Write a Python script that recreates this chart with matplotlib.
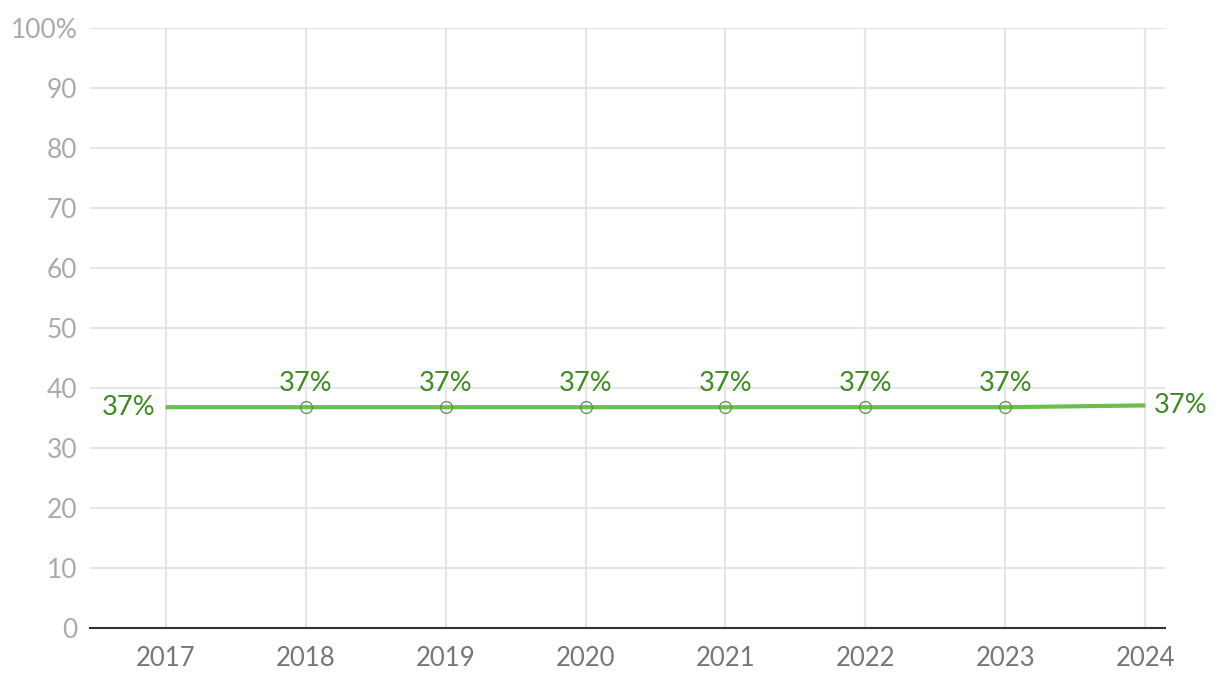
import numpy as np
import matplotlib.pyplot as plt

plt.rcParams["font.family"] = ["Lato", "DejaVu Sans"]

years = [2017, 2018, 2019, 2020, 2021, 2022, 2023, 2024]
values = [36.8, 36.8, 36.8, 36.8, 36.8, 36.8, 36.8, 37.1]
labels = ["37%"] * len(years)
y_ticks = [0, 10, 20, 30, 40, 50, 60, 70, 80, 90, 100]
y_tick_labels = ["0", "10", "20", "30", "40", "50", "60", "70", "80", "90", "100%"]

line_color = "#6cbd4f"
label_color = "#3d8a23"

fig = plt.figure(figsize=(12.2, 6.92), dpi=100)
ax = fig.add_axes([90 / 1220, 1 - 628 / 692, 1075 / 1220, 600 / 692])

ax.plot(years, values, color=line_color, linewidth=3, solid_capstyle="butt", zorder=3)
ax.plot(years[1:-1], values[1:-1], linestyle="none", marker="o", markersize=8.5,
        markerfacecolor="none", markeredgecolor="#5f8f4e", markeredgewidth=0.9, zorder=4)

for i, (x, y, lab) in enumerate(zip(years, values, labels)):
    if i == 0:
        ax.annotate(lab, (x, y), xytext=(-7, 0), textcoords="offset points",
                    ha="right", va="center", color=label_color, fontsize=19.5)
    elif i == len(years) - 1:
        ax.annotate(lab, (x, y), xytext=(6, 0), textcoords="offset points",
                    ha="left", va="center", color=label_color, fontsize=19.5)
    else:
        ax.annotate(lab, (x, y), xytext=(0, 8), textcoords="offset points",
                    ha="center", va="bottom", color=label_color, fontsize=19.5)

ax.set_xlim(2016.46, 2024.14)
ax.set_ylim(0, 100)
ax.set_xticks(years)
ax.set_xticklabels([str(y) for y in years])
ax.set_yticks(y_ticks)
ax.set_yticklabels(y_tick_labels)

ax.grid(True, color="#e6e6e6", linewidth=1.5)
ax.set_axisbelow(True)
for side in ["top", "right", "left"]:
    ax.spines[side].set_visible(False)
ax.spines["bottom"].set_color("#333333")
ax.spines["bottom"].set_linewidth(1.5)
ax.spines["bottom"].set_zorder(5)

ax.tick_params(axis="x", length=0, pad=13, labelsize=18.5, labelcolor="#777777")
ax.tick_params(axis="y", length=0, pad=9, labelsize=19, labelcolor="#aaaaaa")

fig.savefig("out.png", dpi=100)
